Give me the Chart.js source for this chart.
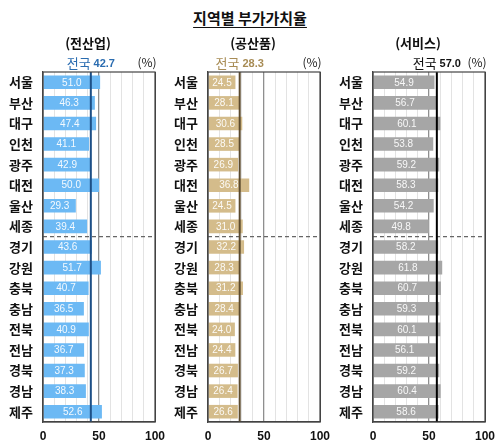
<!DOCTYPE html>
<html>
<head>
<meta charset="utf-8">
<script src="https://cdn.jsdelivr.net/npm/chart.js@4.4.1/dist/chart.umd.min.js"></script>
<style>
  body { margin: 0; background: #fff; }
  #wrap { position: relative; width: 500px; height: 448px; overflow: hidden; }
  #title { position: absolute; left: 0; width: 500px; top: 7px; text-align: center;
    font: bold 15px "Noto Sans CJK KR", sans-serif; color: #111; }
  #title span { text-decoration: underline; text-underline-offset: 3px; }
  canvas { position: absolute; top: 0; }
</style>
</head>
<body>
<div id="wrap">
  <div id="title"><span>지역별 부가가치율</span></div>
  <canvas id="c0" style="left:0px"></canvas>
  <canvas id="c1" style="left:165px"></canvas>
  <canvas id="c2" style="left:330px"></canvas>
</div>
<script>
const regions = ['서울','부산','대구','인천','광주','대전','울산','세종','경기','강원','충북','충남','전북','전남','경북','경남','제주'];
const allIndustry = [51.0,46.3,47.4,41.1,42.9,50.0,29.3,39.4,43.6,51.7,40.7,36.5,40.9,36.7,37.3,38.3,52.6];
const manufactured = [24.5,28.1,30.6,28.5,26.9,36.8,24.5,31.0,32.2,28.3,31.2,28.4,24.0,24.4,26.7,26.4,26.6];
const services = [54.9,56.7,60.1,53.8,59.2,58.3,54.2,49.8,58.2,61.8,60.7,59.3,60.1,56.1,59.2,60.4,58.6];
const nationalAvg = [42.7, 28.3, 57.0];
const panelTitles = ['(전산업)', '(공산품)', '(서비스)'];
const xTickLabels = [0, 50, 100];
const splitAfter = '세종'; // dashed line between 세종 and 경기

const panels = [
  { id: 'c0', data: allIndustry, avg: nationalAvg[0], title: panelTitles[0],
    bar: '#6cb9f4', line: '#1d4f86', head: '#2a6cb0' },
  { id: 'c1', data: manufactured, avg: nationalAvg[1], title: panelTitles[1],
    bar: '#d4bc8b', line: '#5b4a2e', head: '#a88c55' },
  { id: 'c2', data: services, avg: nationalAvg[2], title: panelTitles[2],
    bar: '#a6a6a6', line: '#000000', head: '#111111' }
];

const KR = '"Noto Sans CJK KR", sans-serif';

function makeOverlay(p) {
  return {
    id: 'overlay',
    afterDatasetsDraw(chart) {
      const ctx = chart.ctx, a = chart.chartArea;
      const xs = chart.scales.x, ys = chart.scales.y;
      ctx.save();
      // value labels
      const meta = chart.getDatasetMeta(0);
      ctx.font = '10px "Liberation Sans", sans-serif';
      ctx.fillStyle = 'rgba(255,255,255,0.92)';
      ctx.textAlign = 'center';
      ctx.textBaseline = 'middle';
      meta.data.forEach((bar, i) => {
        ctx.fillText(p.data[i].toFixed(1), (bar.base + bar.x) / 2, bar.y + 0.5);
      });
      // dashed split line
      const k = regions.indexOf(splitAfter);
      const yy = (ys.getPixelForValue(k) + ys.getPixelForValue(k + 1)) / 2;
      ctx.strokeStyle = '#666';
      ctx.lineWidth = 1.3;
      ctx.setLineDash([4, 3]);
      ctx.beginPath();
      ctx.moveTo(a.left, yy);
      ctx.lineTo(a.right, yy);
      ctx.stroke();
      ctx.setLineDash([]);
      // national average
      const xa = xs.getPixelForValue(p.avg);
      ctx.strokeStyle = p.line;
      ctx.lineWidth = 2;
      ctx.beginPath();
      ctx.moveTo(xa, a.top);
      ctx.lineTo(xa, a.bottom);
      ctx.stroke();
      // frame
      ctx.strokeStyle = '#444';
      ctx.lineWidth = 1.2;
      ctx.strokeRect(a.left, a.top, a.right - a.left, a.bottom - a.top);
      ctx.restore();
    },
    afterDraw(chart) {
      const ctx = chart.ctx;
      const xa = chart.scales.x.getPixelForValue(p.avg);
      ctx.save();
      ctx.textBaseline = 'middle';
      ctx.textAlign = 'center';
      ctx.fillStyle = '#111';
      ctx.font = 'bold 13px ' + KR;
      ctx.fillText(p.title, 88, 43);
      // 전국 header
      const w1 = (ctx.font = '13px ' + KR, ctx.measureText('전국 ').width);
      const num = p.avg.toFixed(1);
      ctx.font = 'bold 11px "Liberation Sans", sans-serif';
      const w2 = ctx.measureText(num).width;
      let x0 = xa - (w1 + w2) / 2;
      ctx.textAlign = 'left';
      ctx.fillStyle = p.head;
      ctx.font = '13px ' + KR;
      ctx.fillText('전국 ', x0, 63);
      ctx.font = 'bold 11px "Liberation Sans", sans-serif';
      ctx.fillText(num, x0 + w1, 64);
      ctx.fillStyle = '#222';
      ctx.textAlign = 'center';
      ctx.font = '12px ' + KR;
      ctx.fillText('(%)', 147, 62);
      ctx.restore();
    }
  };
}

panels.forEach(p => {
  const el = document.getElementById(p.id);
  el.width = 165; el.height = 448;
  new Chart(el, {
    type: 'bar',
    data: {
      labels: regions,
      datasets: [{ data: p.data, backgroundColor: p.bar, barPercentage: 0.75, categoryPercentage: 0.88 }]
    },
    options: {
      indexAxis: 'y',
      responsive: false,
      animation: false,
      layout: { padding: { left: 8, right: 10, top: 72, bottom: 0 } },
      plugins: { legend: { display: false }, tooltip: { enabled: false } },
      scales: {
        x: {
          min: 0, max: 100,
          afterFit: s => { s.height = 26; s.paddingLeft = 0; s.paddingRight = 0; },
          ticks: {
            stepSize: 10, autoSkip: false, maxRotation: 0, padding: 7,
            color: '#111', font: { family: 'Liberation Sans', weight: 'bold', size: 12 },
            callback: v => xTickLabels.includes(v) ? String(v) : ''
          },
          grid: {
            drawTicks: false,
            color: c => c.tick.value === 50 ? '#8f8f8f' : (c.tick.value === 100 ? '#444' : '#e3e3e3'),
            lineWidth: c => c.tick.value === 50 ? 1.3 : 1
          },
          border: { color: '#444', width: 1.2 }
        },
        y: {
          afterFit: s => { s.width = 35; },
          ticks: { padding: 10, color: '#111', font: { family: 'Noto Sans CJK KR', weight: 'bold', size: 13 } },
          grid: { display: false, drawTicks: false },
          border: { color: '#444', width: 1.2 }
        }
      }
    },
    plugins: [makeOverlay(p)]
  });
});
</script>
</body>
</html>
